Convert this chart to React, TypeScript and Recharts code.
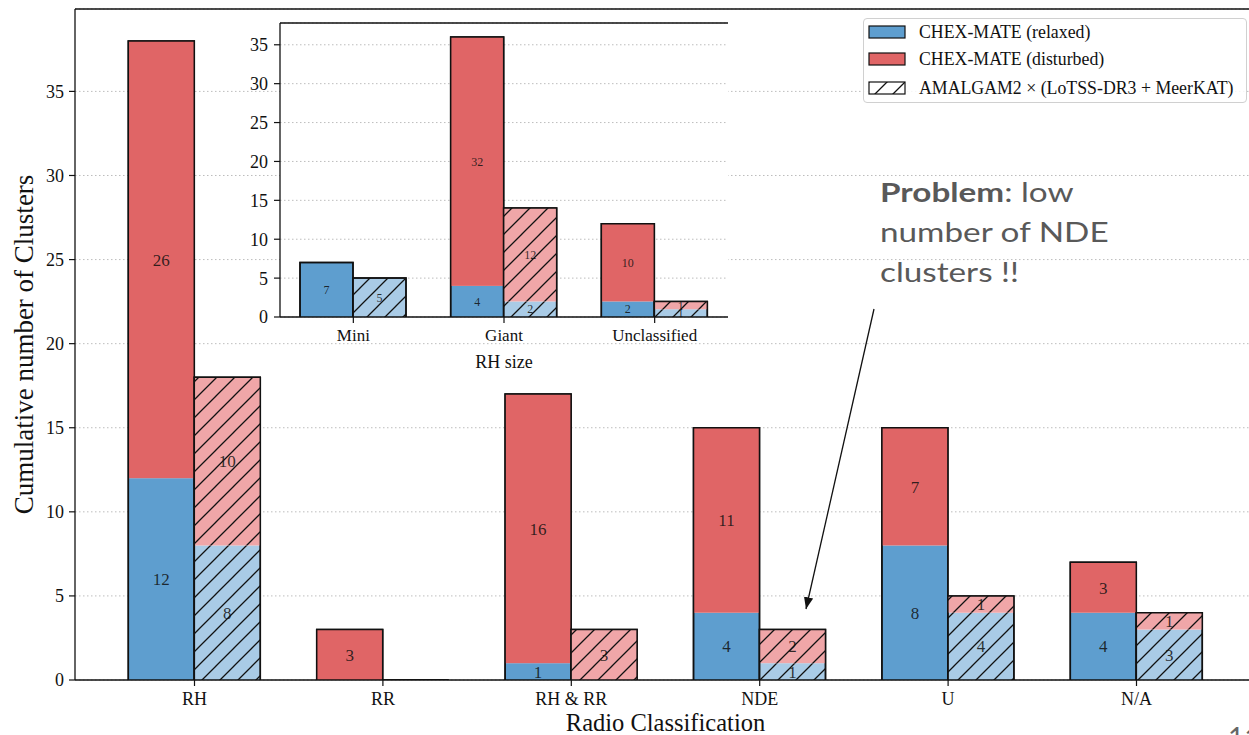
import React from "react";
import {
  BarChart,
  Bar,
  XAxis,
  YAxis,
  CartesianGrid,
  LabelList,
  ReferenceLine,
} from "recharts";

const SERIF = "'Liberation Serif', 'Times New Roman', serif";
const INK = "#111";

// main panel: cluster counts per radio classification
const radioClasses = ["RH", "RR", "RH & RR", "NDE", "U", "N/A"];
const chexRelaxed = [12, 0, 1, 4, 8, 4];
const chexDisturbed = [26, 3, 16, 11, 7, 3];
const amalRelaxed = [8, 0, 0, 1, 4, 3];
const amalDisturbed = [10, 0, 3, 2, 1, 1];
const radioTicks = [0, 5, 10, 15, 20, 25, 30, 35];

// inset: radio halo size
const rhSizes = ["Mini", "Giant", "Unclassified"];
const sizeChexRelaxed = [7, 4, 2];
const sizeChexDisturbed = [0, 32, 10];
const sizeAmalRelaxed = [5, 2, 1];
const sizeAmalDisturbed = [0, 12, 1];
const sizeTicks = [0, 5, 10, 15, 20, 25, 30, 35];

const legendNames = [
  "CHEX-MATE (relaxed)",
  "CHEX-MATE (disturbed)",
  "AMALGAM2 × (LoTSS-DR3 + MeerKAT)",
];

const BLUE = "#5e9ecf";
const RED = "#e06566";
const BLUE_LIGHT = "#a9cbe6";
const RED_LIGHT = "#f0a6a8";

type Row = { name: string; cr: number; cd: number; ar: number; ad: number };

const toRows = (
  names: string[],
  cr: number[],
  cd: number[],
  ar: number[],
  ad: number[]
): Row[] => names.map((name, i) => ({ name, cr: cr[i], cd: cd[i], ar: ar[i], ad: ad[i] }));

const radioRows = toRows(radioClasses, chexRelaxed, chexDisturbed, amalRelaxed, amalDisturbed);
const sizeRows = toRows(rhSizes, sizeChexRelaxed, sizeChexDisturbed, sizeAmalRelaxed, sizeAmalDisturbed);

// 5% headroom above the tallest stack, like matplotlib's autoscale
const topOf = (rows: Row[]) =>
  Math.max(...rows.map((r) => Math.max(r.cr + r.cd, r.ar + r.ad))) * 1.05;
const mainTop = topOf(radioRows);
const insetTop = topOf(sizeRows);

const hideZero = (v: any) => (v ? String(v) : "");

const Hatch = ({ id }: { id: string }) => (
  <pattern id={id} patternUnits="userSpaceOnUse" width={18} height={18}>
    <path
      d="M0,18 L18,0 M-4.5,4.5 L4.5,-4.5 M13.5,22.5 L22.5,13.5"
      stroke={INK}
      strokeWidth={1.3}
    />
  </pattern>
);

// one stacked segment; the black edge is drawn around the whole stack, not per segment
const segment =
  (fill: string, hatch: string | null, keys: [keyof Row, keyof Row], yMax: number) =>
  (props: any) => {
    const { x, y, width, height, background, payload } = props;
    const h = Math.abs(height || 0);
    const top = height < 0 ? y + height : y;
    let edge = null;
    if (background && payload) {
      const base = background.y + background.height;
      const total = (payload[keys[0]] as number) + (payload[keys[1]] as number);
      const t = base - (total / yMax) * background.height;
      edge = (
        <path
          d={`M${x},${base} V${t} H${x + width} V${base}`}
          fill="none"
          stroke={INK}
          strokeWidth={1.5}
        />
      );
    }
    return (
      <g>
        {h > 0 && <rect x={x} y={top} width={width} height={h} fill={fill} />}
        {h > 0 && hatch && (
          <rect x={x} y={top} width={width} height={h} fill={`url(#${hatch})`} />
        )}
        {edge}
      </g>
    );
  };

const stackBars = (yMax: number, hatchId: string, fontSize: number) => {
  const label = (key: string) => (
    <LabelList
      dataKey={key}
      position="center"
      formatter={hideZero}
      fill={INK}
      fillOpacity={0.85}
      fontFamily={SERIF}
      fontSize={fontSize}
    />
  );
  return [
    <Bar key="cr" dataKey="cr" stackId="chex" isAnimationActive={false}
      shape={segment(BLUE, null, ["cr", "cd"], yMax)}>{label("cr")}</Bar>,
    <Bar key="cd" dataKey="cd" stackId="chex" isAnimationActive={false}
      shape={segment(RED, null, ["cr", "cd"], yMax)}>{label("cd")}</Bar>,
    <Bar key="ar" dataKey="ar" stackId="amal" isAnimationActive={false}
      shape={segment(BLUE_LIGHT, hatchId, ["ar", "ad"], yMax)}>{label("ar")}</Bar>,
    <Bar key="ad" dataKey="ad" stackId="amal" isAnimationActive={false}
      shape={segment(RED_LIGHT, hatchId, ["ar", "ad"], yMax)}>{label("ad")}</Bar>,
  ];
};

const yLabel = ({ viewBox }: any) => {
  const cy = viewBox.y + viewBox.height / 2;
  return (
    <text
      x={24}
      y={cy}
      transform={`rotate(-90 24 ${cy})`}
      textAnchor="middle"
      dominantBaseline="central"
      fontFamily={SERIF}
      fontSize={27}
      fill={INK}
    >
      Cumulative number of Clusters
    </text>
  );
};

const MainChart = () => (
  <BarChart
    width={1270}
    height={735}
    data={radioRows}
    margin={{ top: 9, right: 14, bottom: 0, left: 0 }}
    barGap={0}
    barSize={66}
  >
    <defs>
      <Hatch id="hatch-main" />
    </defs>
    <CartesianGrid vertical={false} stroke="#bdbdbd" strokeDasharray="1.5 2.5" />
    <XAxis
      dataKey="name"
      height={55}
      interval={0}
      padding={{ left: 25.3, right: 25.3 }}
      tickSize={6}
      tickMargin={6}
      tickLine={{ stroke: INK, strokeWidth: 1.2 }}
      axisLine={{ stroke: INK, strokeWidth: 1.3 }}
      tick={{ fontFamily: SERIF, fontSize: 18, fill: INK }}
      label={{
        value: "Radio Classification",
        position: "insideBottom",
        offset: 4,
        fontFamily: SERIF,
        fontSize: 24.5,
        fill: INK,
      }}
    />
    <YAxis
      width={75}
      domain={[0, mainTop]}
      ticks={radioTicks}
      allowDataOverflow
      tickSize={6}
      tickMargin={5}
      tickLine={{ stroke: INK, strokeWidth: 1.2 }}
      axisLine={{ stroke: INK, strokeWidth: 1.3 }}
      tick={{ fontFamily: SERIF, fontSize: 18, fill: INK }}
      label={yLabel}
    />
    <ReferenceLine y={mainTop} stroke={INK} strokeWidth={1.3} />
    {stackBars(mainTop, "hatch-main", 17)}
  </BarChart>
);

const InsetChart = () => (
  <BarChart
    width={570}
    height={380}
    data={sizeRows}
    margin={{ top: 23, right: 22, bottom: 0, left: 0 }}
    barGap={0}
    barSize={53}
  >
    <defs>
      <Hatch id="hatch-inset" />
    </defs>
    <CartesianGrid
      vertical={false}
      fill="#fff"
      fillOpacity={1}
      stroke="#bdbdbd"
      strokeDasharray="1.5 2.5"
    />
    <XAxis
      dataKey="name"
      height={63}
      interval={0}
      padding={{ left: -2, right: -2 }}
      tickSize={6}
      tickMargin={6}
      tickLine={{ stroke: INK, strokeWidth: 1.2 }}
      axisLine={{ stroke: INK, strokeWidth: 1.3 }}
      tick={{ fontFamily: SERIF, fontSize: 17, fill: INK }}
      label={{
        value: "RH size",
        position: "insideBottom",
        offset: 12,
        fontFamily: SERIF,
        fontSize: 18,
        fill: INK,
      }}
    />
    <YAxis
      width={100}
      domain={[0, insetTop]}
      ticks={sizeTicks}
      allowDataOverflow
      tickSize={6}
      tickMargin={6}
      tickLine={{ stroke: INK, strokeWidth: 1.2 }}
      axisLine={{ stroke: INK, strokeWidth: 1.3 }}
      tick={{ fontFamily: SERIF, fontSize: 18, fill: INK }}
    />
    <YAxis
      yAxisId="frame"
      orientation="right"
      width={0}
      domain={[0, insetTop]}
      allowDataOverflow
      tick={false}
      tickLine={false}
      axisLine={{ stroke: INK, strokeWidth: 1.3 }}
    />
    <ReferenceLine y={insetTop} stroke={INK} strokeWidth={1.3} />
    {stackBars(insetTop, "hatch-inset", 12)}
  </BarChart>
);

const legendSwatches = [
  { fill: BLUE, hatched: false },
  { fill: RED, hatched: false },
  { fill: "#fff", hatched: true },
];
const legendRowTops = [3, 30, 59];

const LegendBox = () => (
  <div
    style={{
      position: "absolute",
      left: 863,
      top: 18,
      width: 384,
      height: 85,
      boxSizing: "border-box",
      border: "1px solid #d0d0d0",
      borderRadius: 4,
      background: "rgba(255,255,255,0.85)",
      fontFamily: SERIF,
      fontSize: 17.8,
      color: INK,
    }}
  >
    {legendNames.map((name, i) => (
      <div
        key={name}
        style={{
          position: "absolute",
          left: 4,
          top: legendRowTops[i],
          height: 20,
          display: "flex",
          alignItems: "center",
          whiteSpace: "nowrap",
        }}
      >
        <svg width={38} height={14} style={{ marginRight: 13 }}>
          {legendSwatches[i].hatched && (
            <defs>
              <pattern id="hatch-legend" patternUnits="userSpaceOnUse" width={18} height={18} x={2}>
                <path d="M0,18 L18,0 M-4.5,4.5 L4.5,-4.5 M13.5,22.5 L22.5,13.5" stroke={INK} strokeWidth={1.3} />
              </pattern>
            </defs>
          )}
          <rect x={1} y={1} width={36} height={12} fill={legendSwatches[i].fill} stroke={INK} strokeWidth={1.2} />
          {legendSwatches[i].hatched && (
            <rect x={1} y={1} width={36} height={12} fill="url(#hatch-legend)" />
          )}
        </svg>
        <span>{name}</span>
      </div>
    ))}
  </div>
);

// the slide text is set wide: stretch it horizontally around its left edge
const NOTE_X = 880;
const NOTE_SX = 1.28;

const Annotation = () => (
  <svg
    width={1249}
    height={735}
    style={{ position: "absolute", left: 0, top: 0, pointerEvents: "none" }}
  >
    <defs>
      <marker id="arrow-head" viewBox="0 0 10 10" refX={10} refY={5} markerWidth={9} markerHeight={9} orient="auto">
        <path d="M0,1 L10,5 L0,9 z" fill={INK} />
      </marker>
    </defs>
    <g
      transform={`matrix(${NOTE_SX} 0 0 1 ${NOTE_X * (1 - NOTE_SX)} 0)`}
      fontFamily="Lato, 'Open Sans', sans-serif"
      fontSize={26}
      fill="#595959"
    >
      <text x={NOTE_X} y={202}>
        <tspan fontWeight={700}>Problem</tspan>: low
      </text>
      <text x={NOTE_X} y={242}>number of NDE</text>
      <text x={NOTE_X} y={282}>clusters !!</text>
    </g>
    <line x1={874} y1={309} x2={806} y2={609} stroke={INK} strokeWidth={1.3} markerEnd="url(#arrow-head)" />
    <text x={1228} y={748} fontFamily="Lato, sans-serif" fontSize={28} fill="#666">
      11
    </text>
  </svg>
);

export default function App() {
  return (
    <div
      style={{
        position: "absolute",
        left: 0,
        top: 0,
        width: 1249,
        height: 735,
        overflow: "hidden",
        background: "#fff",
      }}
    >
      <MainChart />
      <div style={{ position: "absolute", left: 180, top: 0 }}>
        <InsetChart />
      </div>
      <LegendBox />
      <Annotation />
    </div>
  );
}
